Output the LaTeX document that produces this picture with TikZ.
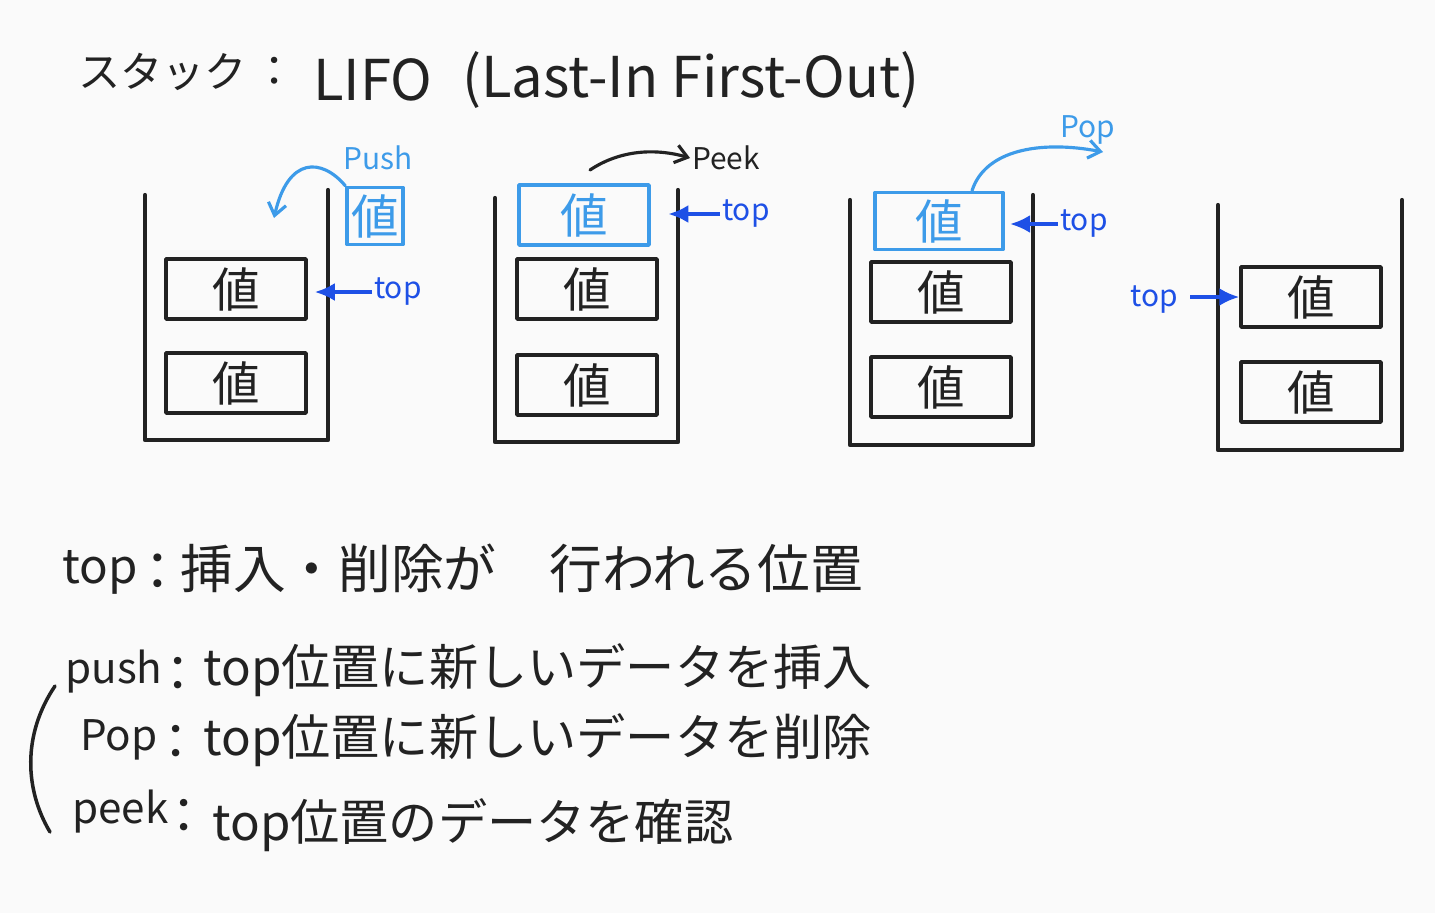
\documentclass[tikz,border=0pt]{standalone}
\usepackage{fontspec}
\setmainfont{Noto Sans CJK JP}
\usetikzlibrary{arrows.meta,positioning}
\definecolor{stink}{RGB}{34,34,34}
\definecolor{stpale}{RGB}{61,155,233}
\definecolor{sttop}{RGB}{30,80,230}
\definecolor{stbg}{RGB}{250,250,250}
\tikzset{
  wall/.style={draw=stink, line width=2.4pt, line cap=round, line join=round},
  valbox/.style={
    draw=stink, line width=2pt, text=stink, inner sep=0pt,
    minimum width=2.8cm, minimum height=1.2cm, font=\fontsize{27}{29}\selectfont
  },
  newbox/.style={valbox, draw=stpale, text=stpale},
  toplbl/.style={font=\fontsize{17}{19}\selectfont, text=sttop, inner sep=1pt},
  oplbl/.style={font=\fontsize{17}{19}\selectfont, inner sep=1pt},
  toparr/.style={-{Latex[length=4mm,width=3.6mm]}, draw=sttop, line width=2pt},
  oparr/.style={-{Straight Barb[length=2.4mm,width=3.6mm]}, line width=1.8pt, line cap=round},
  big/.style={font=\fontsize{28}{32}\selectfont, text=stink, inner sep=0pt},
  key/.style={big, font=\fontsize{24}{28}\selectfont, anchor=west},
  every picture/.append style={line join=round}
}
\begin{document}
\begin{tikzpicture}[x=0.02cm, y=-0.02cm]
  \useasboundingbox[fill=stbg] (0,0) rectangle (1435,913);
  % title
  \node[big, font=\fontsize{24}{28}\selectfont, anchor=west] (ttl) at (78,72) {スタック};
  \node[big, font=\fontsize{24}{28}\selectfont] (ttlc) at (275,72) {：};
  \node[big, font=\fontsize{32}{36}\selectfont, anchor=west] (lifo) at (313,80) {LIFO};
  \node[big, font=\fontsize{32}{36}\selectfont, anchor=west] (full) at (462,80) {(Last-In First-Out)};
  % stack 1 : push
  \draw[wall] (145,195) -- (145,440) -- (328,440) -- (328,190);
  \node[valbox] (a1) at (236,289) {値};
  \node[valbox] (a2) at (236,383) {値};
  \node[newbox, minimum width=1.12cm, minimum height=1.14cm] (a0) at (375,216) {値};
  \node[oplbl, text=stpale] (pu) at (378,158) {Push};
  \draw[oparr, stpale] (a0.north west) .. controls (322,158) and (288,156) .. (274,218);
  \node[toplbl, anchor=west] (t1) at (372,292) {top};
  \draw[toparr, shorten >=4pt] (t1.west) -- (t1.west -| a1.east);
  % stack 2 : peek
  \draw[wall] (495,198) -- (495,442) -- (678,442) -- (678,190);
  \node[newbox, minimum width=2.6cm] (b0) at (584,215) {値};
  \node[valbox] (b1) at (587,289) {値};
  \node[valbox] (b2) at (587,385) {値};
  \node[oplbl, text=stink] (pk) at (726,158) {Peek};
  \coordinate (pkfrom) at (590,170);
  \draw[oparr, stink] (pkfrom) .. controls (620,150) and (655,148) .. (pk.west);
  \node[toplbl, anchor=west] (t2) at (720,214) {top};
  \draw[toparr, shorten >=10pt] (t2.west) -- (t2.west -| b0.east);
  % stack 3 : pop
  \draw[wall] (850,200) -- (850,445) -- (1033,445) -- (1033,195);
  \node[newbox, minimum width=2.56cm, minimum height=1.14cm] (c0) at (939,221) {値};
  \node[valbox] (c1) at (941,292) {値};
  \node[valbox] (c2) at (941,387) {値};
  \node[oplbl, text=stpale] (po) at (1088,130) {Pop};
  \coordinate (popto) at (1103,152);
  \draw[oparr, stpale] ([xshift=0.66cm]c0.north) .. controls (985,150) and (1040,140) .. (popto);
  \node[toplbl, anchor=west] (t3) at (1058,224) {top};
  \draw[toparr, shorten >=3pt] (t3.west) -- (t3.west -| c0.east);
  % stack 4 : after pop
  \draw[wall] (1218,205) -- (1218,450) -- (1402,450) -- (1402,200);
  \node[valbox] (d1) at (1311,297) {値};
  \node[valbox] (d2) at (1311,392) {値};
  \node[toplbl] (t4) at (1154,300) {top};
  \draw[toparr, shorten <=6pt] (t4.east |- d1.west) -- (d1.west);
  % notes
  \node[key, font=\fontsize{27}{30}\selectfont] (k0) at (62,572) {top};
  \node[big, font=\fontsize{30}{34}\selectfont] (k0c) at (158,572) {：};
  \node[big, font=\fontsize{30}{34}\selectfont, anchor=west] (v0) at (180,568) {挿入・削除が\hspace{1em}行われる位置};
  \node[key] (k1) at (65,672) {push};
  \node[big] (k1c) at (178,674) {：};
  \node[big, anchor=west] (v1) at (203,670) {top位置に新しいデータを挿入};
  \node[key] (k2) at (80,740) {Pop};
  \node[big] (k2c) at (176,742) {：};
  \node[big, anchor=west] (v2) at (203,740) {top位置に新しいデータを削除};
  \node[key] (k3) at (72,812) {peek};
  \node[big] (k3c) at (184,816) {：};
  \node[big, anchor=west] (v3) at (212,825) {top位置のデータを確認};
  \draw[stink, line width=2pt, line cap=round] (55,686) .. controls (22,735) and (25,790) .. (50,832);
\end{tikzpicture}
\end{document}
